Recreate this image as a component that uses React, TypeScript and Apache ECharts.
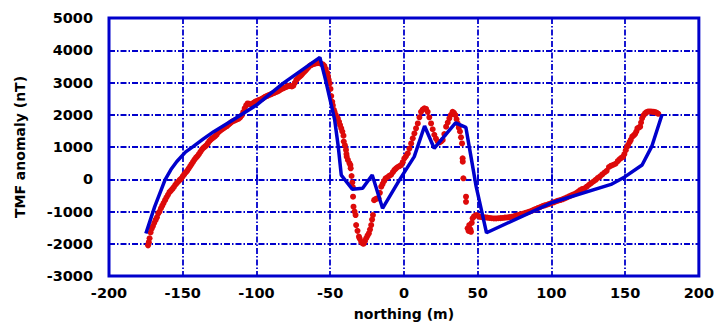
import React, { useEffect, useRef } from "react";
import * as echarts from "echarts";

const xTicks = [-200, -150, -100, -50, 0, 50, 100, 150, 200];
const yTicks = [-3000, -2000, -1000, 0, 1000, 2000, 3000, 4000, 5000];

// observed TMF anomaly (red dots): [northing, nT]
const observed: [number, number][] = [
  [-173.5, -2050], [-173, -1950], [-172.5, -1830], [-171.8, -1650], [-171, -1530], [-170.2, -1450],
  [-169.3, -1350], [-168.4, -1260], [-167.5, -1180], [-166.6, -1060], [-165.7, -1000], [-164.8, -900],
  [-163.9, -820], [-163, -740], [-162, -650], [-161, -560], [-160, -480], [-159, -400], [-158, -350],
  [-157, -300], [-156, -240], [-155, -170], [-154, -120], [-153, -70], [-152, -20], [-151, 20],
  [-150, 90], [-149, 150], [-148, 210], [-147, 260], [-146, 330], [-145, 400], [-144, 470],
  [-143, 540], [-142, 610], [-141, 670], [-140, 720], [-139, 780], [-138, 850], [-137, 920],
  [-136, 970], [-135, 1010], [-134, 1050], [-133, 1110], [-132, 1180], [-131, 1230], [-130, 1270],
  [-129, 1300], [-128, 1340], [-127, 1380], [-126, 1450], [-125, 1490], [-124, 1530], [-123, 1560],
  [-122, 1590], [-121, 1620], [-120, 1650], [-119, 1690], [-118, 1730], [-117, 1770], [-116, 1800],
  [-115, 1820], [-114, 1840], [-113, 1860], [-112, 1880], [-111, 1920], [-110, 1980], [-109, 2080],
  [-108, 2200], [-107, 2290], [-106, 2350], [-105, 2340], [-104, 2320], [-103, 2340], [-102, 2370],
  [-101, 2400], [-100, 2420], [-99, 2440], [-98, 2460], [-97, 2480], [-96, 2500], [-95, 2530],
  [-94, 2560], [-93, 2580], [-92, 2600], [-91, 2620], [-90, 2640], [-89, 2660], [-88, 2680],
  [-87, 2700], [-86, 2720], [-85, 2740], [-84, 2770], [-83, 2800], [-82, 2820], [-81, 2840],
  [-80, 2860], [-79, 2880], [-78, 2900], [-77, 2890], [-76, 2880], [-75, 2900], [-74, 2990],
  [-73, 3080], [-72, 3130], [-71, 3170], [-70, 3210], [-69, 3260], [-68, 3310], [-67, 3360],
  [-66, 3410], [-65, 3460], [-64, 3510], [-63, 3540], [-62, 3560], [-61, 3580], [-60, 3590],
  [-59, 3600], [-58, 3610], [-57, 3600], [-56, 3580], [-55, 3560], [-54, 3520], [-53, 3420],
  [-52, 3300], [-51.5, 3200], [-51, 3080], [-50.4, 2970], [-49.8, 2800], [-49.3, 2580], [-48.6, 2400],
  [-48.2, 2290], [-47.5, 2150], [-47, 2080], [-46.2, 1990], [-45.5, 1930], [-44.8, 1880], [-44, 1780],
  [-43.3, 1680], [-42.5, 1580], [-41.8, 1480], [-41, 1350], [-40.8, 1170], [-40, 1050], [-39.3, 910],
  [-39, 780], [-38.8, 700], [-38, 600], [-37, 500], [-36.3, 440], [-36.1, 340], [-35.5, 100],
  [-35, -100], [-34.6, -250], [-34.5, -540], [-34.2, -850], [-33.5, -1000], [-32.8, -1110],
  [-32.4, -1420], [-31.5, -1600], [-30.5, -1780], [-30, -1840], [-29, -1940], [-28, -1990],
  [-27.3, -2000], [-26.5, -1920], [-25.6, -1830], [-24.7, -1750], [-23.8, -1680], [-23, -1560],
  [-22.2, -1420], [-21.6, -1250], [-21, -1110], [-20.2, -650], [-19.5, -620], [-18.5, -600],
  [-17.2, -590], [-16.3, -420], [-15.4, -230], [-14.5, -150], [-13.5, -60], [-12.4, 30], [-11, 70],
  [-9.8, 110], [-8.7, 140], [-7.5, 220], [-6.4, 290], [-5.3, 340], [-4.2, 380], [-3, 410],
  [-1.9, 440], [-0.8, 530], [0.3, 650], [1.4, 720], [2.6, 800], [3.7, 950], [4.9, 1110], [6, 1270],
  [7.1, 1420], [8.2, 1580], [9.4, 1730], [10.5, 1920], [11.6, 2090], [12.7, 2160], [13.9, 2200],
  [15, 2180], [16.1, 2090], [17.2, 1920], [18.4, 1730], [19.5, 1550], [20.6, 1380], [21.7, 1260],
  [22.9, 1170], [24, 1140], [25.2, 1170], [26.3, 1220], [27.4, 1400], [28.6, 1630], [29.7, 1760],
  [30.8, 1890], [31.9, 2000], [33, 2090], [33.9, 2060], [34.9, 1990], [35.7, 1860], [36.4, 1730],
  [37.2, 1600], [38, 1480], [38.7, 1300], [39.4, 1110], [39.8, 650], [39.9, 545], [40.3, 30],
  [42.1, -540], [42.1, -700], [43.2, -1520], [43.8, -1600], [44.3, -1420], [45, -1550], [45.5, -1630],
  [46, -1350], [46.6, -1210], [47.5, -1150], [48.9, -1110], [50, -1130], [51.1, -1160], [52.3, -1170],
  [53.5, -1180], [55, -1180], [56.5, -1190], [58, -1200], [59.5, -1210], [61, -1215], [62.5, -1215],
  [64, -1210], [65.5, -1205], [67, -1200], [68.5, -1190], [70, -1185], [71.5, -1175], [73, -1165],
  [74.5, -1150], [76, -1130], [77.5, -1110], [79, -1090], [80.5, -1070], [82, -1050], [83.5, -1030],
  [85, -1006], [86.5, -980], [88, -950], [89.5, -920], [91, -890], [92.5, -860], [94, -830],
  [95.5, -810], [97, -790], [98.5, -765], [100, -740], [101.5, -715], [103, -690], [104.5, -665],
  [106, -645], [107.5, -622], [109, -595], [110.5, -565], [112, -530], [113.5, -500], [115, -470],
  [116.5, -437], [118, -390], [119.5, -340], [121, -300], [122.5, -280], [124, -230], [125.5, -170],
  [127, -120], [128.5, -70], [130, -20], [131.5, 40], [133, 90], [134.5, 150], [136, 210],
  [137.5, 260], [139, 380], [140.5, 420], [142, 450], [143.5, 480], [145, 560], [146.2, 620],
  [147.4, 660], [148.6, 700], [149.5, 780], [150.4, 900], [151.2, 1000], [152, 1060], [153, 1150],
  [153.8, 1220], [154.8, 1320], [155.8, 1360], [156.8, 1410], [157.6, 1480], [158.3, 1580],
  [159.2, 1600], [160.2, 1630], [160.8, 1760], [161.5, 1890], [162.5, 1980], [163.5, 2040],
  [164.5, 2080], [165.5, 2100], [166.5, 2100], [167.5, 2100], [168.5, 2095], [169.5, 2090],
  [170.5, 2080], [171.5, 2060], [172.5, 2030],
];

// model TMF anomaly (blue line): [northing, nT]
const model: [number, number][] = [
  [-175, -1680], [-169, -850], [-162, -20], [-158, 300], [-154, 550], [-148, 850], [-143, 1010],
  [-136, 1250], [-129, 1475], [-116, 1840], [-100, 2300], [-82, 2975], [-57, 3780], [-53, 3050],
  [-47, 1850], [-44.5, 1000], [-42.5, 130], [-35, -310], [-28, -280], [-21.5, 130], [-14.5, -900],
  [-3, -20], [7, 700], [14, 1650], [20.5, 960], [35, 1750], [42, 1610], [49, -230], [56, -1660],
  [100, -730], [141, -150], [150, 80], [161.5, 440], [168, 1010], [175, 2000],
];

const BLUE = "#0000cc";
const FONT = "DejaVu Sans";

export default function App() {
  const ref = useRef<HTMLDivElement>(null);
  useEffect(() => {
    if (!ref.current) return;
    const chart = echarts.init(ref.current, null, { renderer: "svg" });
    const gridLine = { show: true, lineStyle: { color: BLUE, width: 1.8, type: [6, 2, 1.5, 2] as any } };
    const labelStyle = { fontFamily: FONT, fontWeight: "bold", fontSize: 14.5, color: "#000" };
    chart.setOption({
      animation: false,
      backgroundColor: "#ffffff",
      grid: {
        left: 109, right: 17, top: 18, bottom: 50,
        show: true, borderColor: BLUE, borderWidth: 3, backgroundColor: "transparent",
      },
      xAxis: {
        type: "value",
        min: xTicks[0],
        max: xTicks[xTicks.length - 1],
        interval: 50,
        name: "northing (m)",
        nameLocation: "middle",
        nameGap: 31,
        nameTextStyle: { fontFamily: FONT, fontWeight: "bold", fontSize: 14, color: "#000" },
        axisLine: { show: false },
        axisTick: { show: true, inside: true, length: 5, lineStyle: { color: BLUE, width: 2 } },
        axisLabel: { ...labelStyle, margin: 9, formatter: (v: number) => String(v) },
        splitLine: gridLine,
      },
      yAxis: {
        type: "value",
        min: yTicks[0],
        max: yTicks[yTicks.length - 1],
        interval: 1000,
        name: "TMF anomaly (nT)",
        nameLocation: "middle",
        nameGap: 82,
        nameTextStyle: { fontFamily: FONT, fontWeight: "bold", fontSize: 14, color: "#000" },
        axisLine: { show: false },
        axisTick: { show: true, inside: true, length: 5, lineStyle: { color: BLUE, width: 2 } },
        axisLabel: { ...labelStyle, margin: 16, formatter: (v: number) => String(v) },
        splitLine: gridLine,
      },
      series: [
        {
          type: "scatter",
          data: observed,
          symbol: "circle",
          symbolSize: 6,
          itemStyle: { color: "#dd0a0a", opacity: 1 },
          z: 2,
        },
        {
          type: "line",
          data: model,
          showSymbol: false,
          lineStyle: { color: BLUE, width: 3.5 },
          z: 3,
        },
      ],
    });
    return () => chart.dispose();
  }, []);
  return <div ref={ref} style={{ width: 717, height: 326, position: "absolute", left: 0, top: 0 }} />;
}
